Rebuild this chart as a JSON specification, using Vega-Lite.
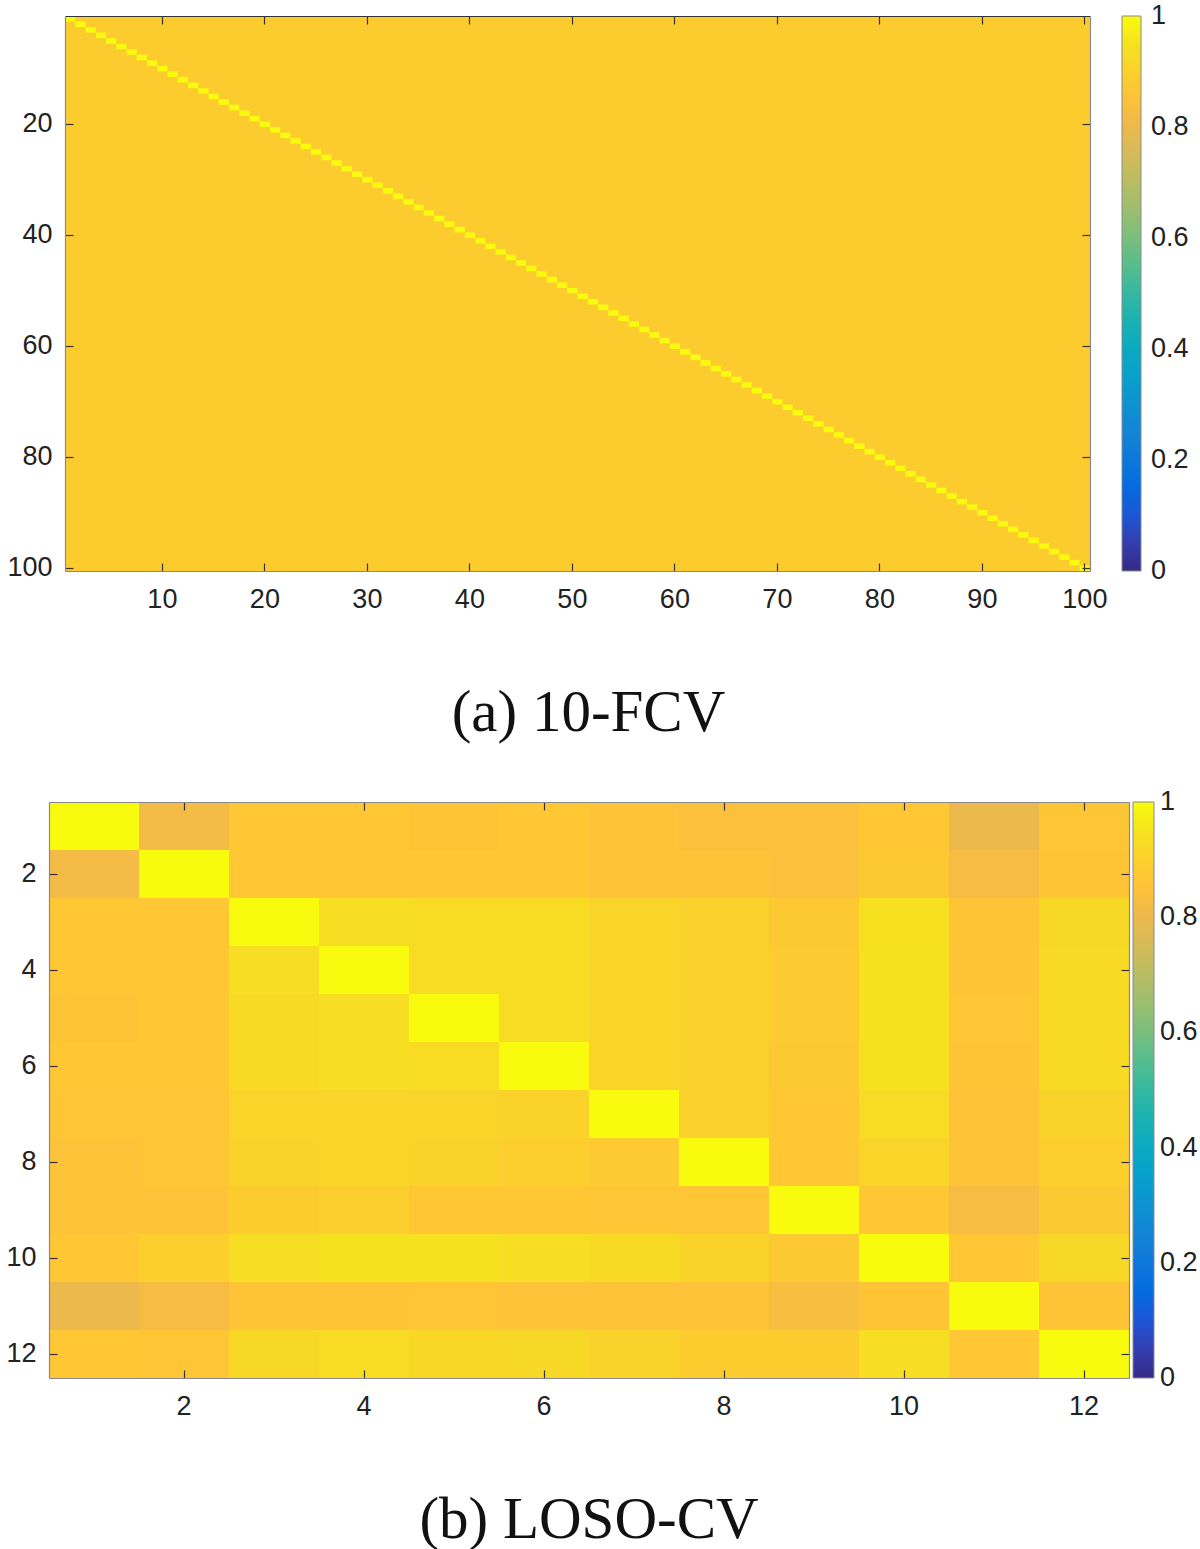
{
  "$schema": "https://vega.github.io/schema/vega-lite/v6.json",
  "padding": {"left": 5, "top": 15, "right": 0, "bottom": 0},
  "background": "white",
  "config": {
    "view": {"stroke": null},
    "axis": {
      "grid": false,
      "title": null,
      "labelFont": "Liberation Sans",
      "labelFontSize": 27,
      "labelColor": "#222",
      "labelAngle": 0,
      "domainColor": "#8a8a8a",
      "domainWidth": 1.2,
      "tickColor": "#333",
      "tickSize": -8,
      "tickWidth": 1.2
    },
    "legend": {
      "labelFont": "Liberation Sans",
      "labelFontSize": 27,
      "labelColor": "#222"
    }
  },
  "datasets": {
    "fcvBg": [{"v": 0.885}],
    "fcvDiag": [
      {"i":1,"v":1},{"i":2,"v":1},{"i":3,"v":1},{"i":4,"v":1},{"i":5,"v":1},{"i":6,"v":1},{"i":7,"v":1},{"i":8,"v":1},{"i":9,"v":1},{"i":10,"v":1},
      {"i":11,"v":1},{"i":12,"v":1},{"i":13,"v":1},{"i":14,"v":1},{"i":15,"v":1},{"i":16,"v":1},{"i":17,"v":1},{"i":18,"v":1},{"i":19,"v":1},{"i":20,"v":1},
      {"i":21,"v":1},{"i":22,"v":1},{"i":23,"v":1},{"i":24,"v":1},{"i":25,"v":1},{"i":26,"v":1},{"i":27,"v":1},{"i":28,"v":1},{"i":29,"v":1},{"i":30,"v":1},
      {"i":31,"v":1},{"i":32,"v":1},{"i":33,"v":1},{"i":34,"v":1},{"i":35,"v":1},{"i":36,"v":1},{"i":37,"v":1},{"i":38,"v":1},{"i":39,"v":1},{"i":40,"v":1},
      {"i":41,"v":1},{"i":42,"v":1},{"i":43,"v":1},{"i":44,"v":1},{"i":45,"v":1},{"i":46,"v":1},{"i":47,"v":1},{"i":48,"v":1},{"i":49,"v":1},{"i":50,"v":1},
      {"i":51,"v":1},{"i":52,"v":1},{"i":53,"v":1},{"i":54,"v":1},{"i":55,"v":1},{"i":56,"v":1},{"i":57,"v":1},{"i":58,"v":1},{"i":59,"v":1},{"i":60,"v":1},
      {"i":61,"v":1},{"i":62,"v":1},{"i":63,"v":1},{"i":64,"v":1},{"i":65,"v":1},{"i":66,"v":1},{"i":67,"v":1},{"i":68,"v":1},{"i":69,"v":1},{"i":70,"v":1},
      {"i":71,"v":1},{"i":72,"v":1},{"i":73,"v":1},{"i":74,"v":1},{"i":75,"v":1},{"i":76,"v":1},{"i":77,"v":1},{"i":78,"v":1},{"i":79,"v":1},{"i":80,"v":1},
      {"i":81,"v":1},{"i":82,"v":1},{"i":83,"v":1},{"i":84,"v":1},{"i":85,"v":1},{"i":86,"v":1},{"i":87,"v":1},{"i":88,"v":1},{"i":89,"v":1},{"i":90,"v":1},
      {"i":91,"v":1},{"i":92,"v":1},{"i":93,"v":1},{"i":94,"v":1},{"i":95,"v":1},{"i":96,"v":1},{"i":97,"v":1},{"i":98,"v":1},{"i":99,"v":1},{"i":100,"v":1}
    ],
    "loso": [
      {"r":1,"c":1,"v":1.0},{"r":1,"c":2,"v":0.82},{"r":1,"c":3,"v":0.87},{"r":1,"c":4,"v":0.87},{"r":1,"c":5,"v":0.86},{"r":1,"c":6,"v":0.87},{"r":1,"c":7,"v":0.855},{"r":1,"c":8,"v":0.845},{"r":1,"c":9,"v":0.845},{"r":1,"c":10,"v":0.87},{"r":1,"c":11,"v":0.8},{"r":1,"c":12,"v":0.865},
      {"r":2,"c":1,"v":0.82},{"r":2,"c":2,"v":1.0},{"r":2,"c":3,"v":0.87},{"r":2,"c":4,"v":0.87},{"r":2,"c":5,"v":0.87},{"r":2,"c":6,"v":0.87},{"r":2,"c":7,"v":0.855},{"r":2,"c":8,"v":0.855},{"r":2,"c":9,"v":0.845},{"r":2,"c":10,"v":0.875},{"r":2,"c":11,"v":0.825},{"r":2,"c":12,"v":0.86},
      {"r":3,"c":1,"v":0.87},{"r":3,"c":2,"v":0.87},{"r":3,"c":3,"v":1.0},{"r":3,"c":4,"v":0.935},{"r":3,"c":5,"v":0.93},{"r":3,"c":6,"v":0.93},{"r":3,"c":7,"v":0.91},{"r":3,"c":8,"v":0.9},{"r":3,"c":9,"v":0.875},{"r":3,"c":10,"v":0.94},{"r":3,"c":11,"v":0.86},{"r":3,"c":12,"v":0.92},
      {"r":4,"c":1,"v":0.87},{"r":4,"c":2,"v":0.87},{"r":4,"c":3,"v":0.935},{"r":4,"c":4,"v":1.0},{"r":4,"c":5,"v":0.93},{"r":4,"c":6,"v":0.93},{"r":4,"c":7,"v":0.91},{"r":4,"c":8,"v":0.9},{"r":4,"c":9,"v":0.88},{"r":4,"c":10,"v":0.945},{"r":4,"c":11,"v":0.86},{"r":4,"c":12,"v":0.925},
      {"r":5,"c":1,"v":0.86},{"r":5,"c":2,"v":0.87},{"r":5,"c":3,"v":0.925},{"r":5,"c":4,"v":0.935},{"r":5,"c":5,"v":1.0},{"r":5,"c":6,"v":0.93},{"r":5,"c":7,"v":0.91},{"r":5,"c":8,"v":0.9},{"r":5,"c":9,"v":0.88},{"r":5,"c":10,"v":0.945},{"r":5,"c":11,"v":0.865},{"r":5,"c":12,"v":0.925},
      {"r":6,"c":1,"v":0.87},{"r":6,"c":2,"v":0.87},{"r":6,"c":3,"v":0.925},{"r":6,"c":4,"v":0.935},{"r":6,"c":5,"v":0.93},{"r":6,"c":6,"v":1.0},{"r":6,"c":7,"v":0.91},{"r":6,"c":8,"v":0.9},{"r":6,"c":9,"v":0.875},{"r":6,"c":10,"v":0.945},{"r":6,"c":11,"v":0.86},{"r":6,"c":12,"v":0.925},
      {"r":7,"c":1,"v":0.865},{"r":7,"c":2,"v":0.865},{"r":7,"c":3,"v":0.91},{"r":7,"c":4,"v":0.91},{"r":7,"c":5,"v":0.91},{"r":7,"c":6,"v":0.905},{"r":7,"c":7,"v":1.0},{"r":7,"c":8,"v":0.9},{"r":7,"c":9,"v":0.87},{"r":7,"c":10,"v":0.93},{"r":7,"c":11,"v":0.855},{"r":7,"c":12,"v":0.905},
      {"r":8,"c":1,"v":0.855},{"r":8,"c":2,"v":0.865},{"r":8,"c":3,"v":0.905},{"r":8,"c":4,"v":0.91},{"r":8,"c":5,"v":0.905},{"r":8,"c":6,"v":0.89},{"r":8,"c":7,"v":0.88},{"r":8,"c":8,"v":1.0},{"r":8,"c":9,"v":0.87},{"r":8,"c":10,"v":0.91},{"r":8,"c":11,"v":0.855},{"r":8,"c":12,"v":0.89},
      {"r":9,"c":1,"v":0.855},{"r":9,"c":2,"v":0.855},{"r":9,"c":3,"v":0.885},{"r":9,"c":4,"v":0.89},{"r":9,"c":5,"v":0.87},{"r":9,"c":6,"v":0.87},{"r":9,"c":7,"v":0.865},{"r":9,"c":8,"v":0.865},{"r":9,"c":9,"v":1.0},{"r":9,"c":10,"v":0.87},{"r":9,"c":11,"v":0.83},{"r":9,"c":12,"v":0.875},
      {"r":10,"c":1,"v":0.87},{"r":10,"c":2,"v":0.895},{"r":10,"c":3,"v":0.935},{"r":10,"c":4,"v":0.945},{"r":10,"c":5,"v":0.945},{"r":10,"c":6,"v":0.935},{"r":10,"c":7,"v":0.925},{"r":10,"c":8,"v":0.905},{"r":10,"c":9,"v":0.875},{"r":10,"c":10,"v":1.0},{"r":10,"c":11,"v":0.87},{"r":10,"c":12,"v":0.92},
      {"r":11,"c":1,"v":0.8},{"r":11,"c":2,"v":0.825},{"r":11,"c":3,"v":0.86},{"r":11,"c":4,"v":0.86},{"r":11,"c":5,"v":0.865},{"r":11,"c":6,"v":0.855},{"r":11,"c":7,"v":0.855},{"r":11,"c":8,"v":0.855},{"r":11,"c":9,"v":0.835},{"r":11,"c":10,"v":0.86},{"r":11,"c":11,"v":1.0},{"r":11,"c":12,"v":0.86},
      {"r":12,"c":1,"v":0.87},{"r":12,"c":2,"v":0.865},{"r":12,"c":3,"v":0.92},{"r":12,"c":4,"v":0.93},{"r":12,"c":5,"v":0.915},{"r":12,"c":6,"v":0.92},{"r":12,"c":7,"v":0.905},{"r":12,"c":8,"v":0.885},{"r":12,"c":9,"v":0.885},{"r":12,"c":10,"v":0.935},{"r":12,"c":11,"v":0.87},{"r":12,"c":12,"v":1.0}
    ]
  },
  "vconcat": [
    {
      "width": 1025,
      "height": 555,
      "title": {"text": "(a) 10-FCV", "orient": "bottom", "offset": 72, "dx": 11, "font": "Liberation Serif", "fontSize": 59, "fontWeight": "normal", "color": "#111", "anchor": "middle"},
      "layer": [
        {
          "data": {"name": "fcvBg"},
          "mark": {"type": "rect"},
          "encoding": {
            "x": {"value": 0},
            "x2": {"value": "width"},
            "y": {"value": 0},
            "y2": {"value": "height"},
            "color": {
              "field": "v", "type": "quantitative",
              "scale": {"type": "linear", "domain": [0, 1], "interpolate": "rgb", "range": ["#352a87","#353dad","#2053d4","#0268e1","#0d75dc","#1481d6","#108ed2","#079ccf","#06a7c6","#0faeb9","#25b5a9","#42bb98","#65be86","#87bf77","#a5be6b","#c0bc60","#d9ba56","#f1b94a","#ffc337","#fad32a","#f5e41d","#f9fb0e"]},
              "legend": {"title": null, "orient": "right", "offset": 31, "direction": "vertical", "gradientLength": 555, "gradientThickness": 19, "values": [0, 0.2, 0.4, 0.6, 0.8, 1], "format": ".1~f", "labelOverlap": false, "gradientStrokeColor": "#8a8a8a", "gradientStrokeWidth": 1, "labelOffset": 10, "encode": {"labels": {"update": {"baseline": {"value": "middle"}}}}}
            }
          }
        },
        {
          "data": {"name": "fcvDiag"},
          "mark": {"type": "rect"},
          "encoding": {
            "x": {"field": "i", "type": "ordinal", "scale": {"paddingInner": 0, "paddingOuter": 0}, "axis": {"orient": "bottom", "values": [10,20,30,40,50,60,70,80,90,100], "labelPadding": 23}},
            "y": {"field": "i", "type": "ordinal", "scale": {"paddingInner": 0, "paddingOuter": 0}, "axis": {"orient": "left", "values": [20,40,60,80,100], "labelPadding": 21}},
            "color": {
              "field": "v", "type": "quantitative",
              "scale": {"type": "linear", "domain": [0, 1], "interpolate": "rgb", "range": ["#352a87","#353dad","#2053d4","#0268e1","#0d75dc","#1481d6","#108ed2","#079ccf","#06a7c6","#0faeb9","#25b5a9","#42bb98","#65be86","#87bf77","#a5be6b","#c0bc60","#d9ba56","#f1b94a","#ffc337","#fad32a","#f5e41d","#f9fb0e"]},
              "legend": {"title": null, "orient": "right", "offset": 31, "direction": "vertical", "gradientLength": 555, "gradientThickness": 19, "values": [0, 0.2, 0.4, 0.6, 0.8, 1], "format": ".1~f", "labelOverlap": false, "gradientStrokeColor": "#8a8a8a", "gradientStrokeWidth": 1, "labelOffset": 10, "encode": {"labels": {"update": {"baseline": {"value": "middle"}}}}}
            }
          }
        },
        {
          "data": {"name": "fcvDiag"},
          "mark": {"type": "rect", "opacity": 0},
          "encoding": {
            "x": {"field": "i", "type": "ordinal", "scale": {"paddingInner": 0, "paddingOuter": 0}, "axis": {"orient": "top", "values": [10,20,30,40,50,60,70,80,90,100], "labels": false, "domainColor": "#333"}},
            "y": {"field": "i", "type": "ordinal", "scale": {"paddingInner": 0, "paddingOuter": 0}, "axis": {"orient": "right", "values": [20,40,60,80,100], "labels": false}}
          }
        }
      ],
      "resolve": {"axis": {"x": "independent", "y": "independent"}}
    },
    {
      "width": 1080,
      "height": 576,
      "title": {"text": "(b) LOSO-CV", "orient": "bottom", "offset": 72, "dx": -16, "font": "Liberation Serif", "fontSize": 59, "fontWeight": "normal", "color": "#111", "anchor": "middle"},
      "data": {"name": "loso"},
      "layer": [
        {
          "mark": {"type": "rect"},
          "encoding": {
            "x": {"field": "c", "type": "ordinal", "scale": {"range": [-16, 1064], "paddingInner": 0, "paddingOuter": 0}, "axis": {"orient": "bottom", "values": [2,4,6,8,10,12], "labelPadding": 23}},
            "y": {"field": "r", "type": "ordinal", "scale": {"paddingInner": 0, "paddingOuter": 0}, "axis": {"orient": "left", "values": [2,4,6,8,10,12], "labelPadding": 21, "offset": 16}},
            "color": {
              "field": "v", "type": "quantitative",
              "scale": {"type": "linear", "domain": [0, 1], "interpolate": "rgb", "range": ["#352a87","#353dad","#2053d4","#0268e1","#0d75dc","#1481d6","#108ed2","#079ccf","#06a7c6","#0faeb9","#25b5a9","#42bb98","#65be86","#87bf77","#a5be6b","#c0bc60","#d9ba56","#f1b94a","#ffc337","#fad32a","#f5e41d","#f9fb0e"]},
              "legend": {"title": null, "orient": "right", "offset": -12, "direction": "vertical", "gradientLength": 576, "gradientThickness": 21, "values": [0, 0.2, 0.4, 0.6, 0.8, 1], "format": ".1~f", "labelOverlap": false, "gradientStrokeColor": "#8a8a8a", "gradientStrokeWidth": 1, "labelOffset": 6, "encode": {"labels": {"update": {"baseline": {"value": "middle"}}}}}
            }
          }
        },
        {
          "mark": {"type": "rect", "opacity": 0},
          "encoding": {
            "x": {"field": "c", "type": "ordinal", "scale": {"range": [-16, 1064], "paddingInner": 0, "paddingOuter": 0}, "axis": {"orient": "top", "values": [2,4,6,8,10,12], "labels": false}},
            "y": {"field": "r", "type": "ordinal", "scale": {"paddingInner": 0, "paddingOuter": 0}, "axis": {"orient": "right", "values": [2,4,6,8,10,12], "labels": false, "offset": -16}}
          }
        }
      ],
      "resolve": {"axis": {"x": "independent", "y": "independent"}}
    }
  ],
  "spacing": 58,
  "resolve": {"scale": {"color": "independent"}, "legend": {"color": "independent"}}
}
